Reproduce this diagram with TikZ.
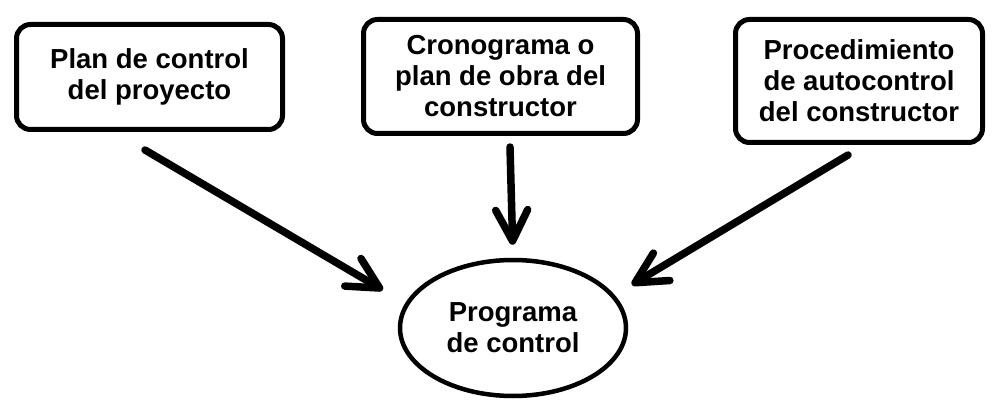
\documentclass[tikz,border=0pt]{standalone}
\usepackage{fontspec}
\setmainfont{Liberation Sans}
\usetikzlibrary{arrows.meta,shapes.geometric}
\begin{document}
\begin{tikzpicture}[x=1pt,y=-1pt]
    \tikzstyle{all nodes}=[inner sep=4pt]
    \tikzstyle{texto}=[align=center,font=\bfseries\fontsize{27.5}{31}\selectfont]
    \tikzstyle{caja}=[texto,draw,line width=5pt,rounded corners=14pt]
    \tikzstyle{flecha}=[line width=7.5pt,line cap=round,-{Straight Barb[length=31pt,width=32pt,round]}]
    \fill[white] (0,0) rectangle (1007,417);
    \useasboundingbox (0,0) rectangle (1007,417);
    \draw node[caja,minimum width=266pt,minimum height=105pt](plan)at(149.5,77){Plan de control\\del proyecto}
          node[caja,minimum width=274pt,minimum height=114pt](crono)at(500.5,76.5){Cronograma o\\plan de obra del\\constructor}
          node[caja,minimum width=247pt,minimum height=123pt](auto)at(859,81){Procedimiento\\de autocontrol\\del constructor}
          node[texto,draw,ellipse,line width=4.5pt,inner sep=0pt,minimum width=226pt,minimum height=136pt](prog)at(513,328){Programa\\de control};
    \draw[flecha,shorten >=26pt]([xshift=-4.5pt,yshift=-18pt]plan.south)--(prog.167);
    \draw[flecha,shorten >=13pt]([xshift=9.5pt,yshift=-11pt]crono.south)--(prog.north);
    \draw[flecha,shorten >=20pt]([xshift=-11pt,yshift=-10pt]auto.south)--(prog.18);
  \end{tikzpicture}
\end{document}
